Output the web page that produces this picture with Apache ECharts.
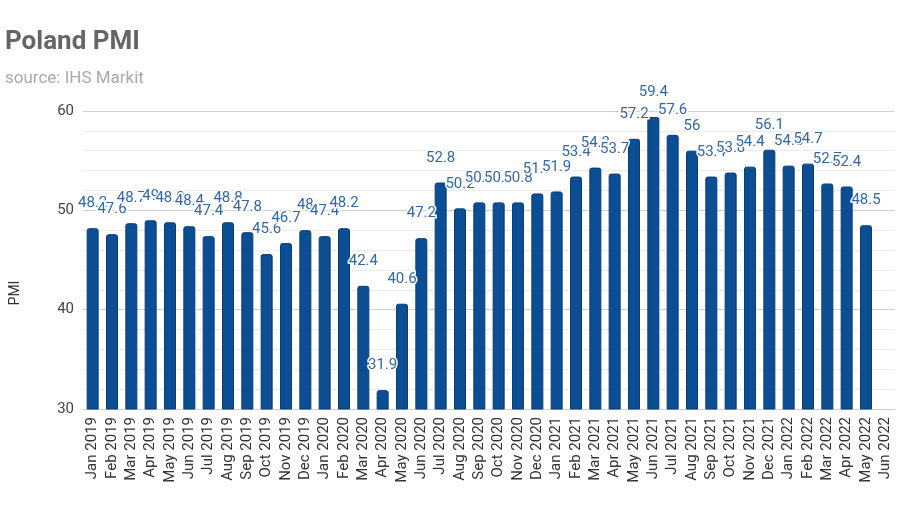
<!DOCTYPE html>
<html>
<head>
<meta charset="utf-8">
<script src="https://cdn.jsdelivr.net/npm/echarts@6/dist/echarts.min.js"></script>
<style>
html,body{margin:0;padding:0;background:#fff;}
#chart{width:900px;height:510px;}
</style>
</head>
<body>
<div id="chart"></div>
<script>
var categories = [
  'Jan 2019','Feb 2019','Mar 2019','Apr 2019','May 2019','Jun 2019','Jul 2019','Aug 2019','Sep 2019','Oct 2019','Nov 2019','Dec 2019',
  'Jan 2020','Feb 2020','Mar 2020','Apr 2020','May 2020','Jun 2020','Jul 2020','Aug 2020','Sep 2020','Oct 2020','Nov 2020','Dec 2020',
  'Jan 2021','Feb 2021','Mar 2021','Apr 2021','May 2021','Jun 2021','Jul 2021','Aug 2021','Sep 2021','Oct 2021','Nov 2021','Dec 2021',
  'Jan 2022','Feb 2022','Mar 2022','Apr 2022','May 2022','Jun 2022'
];
var pmiValues = [
  48.2, 47.6, 48.7, 49.0, 48.8, 48.4, 47.4, 48.8, 47.8, 45.6, 46.7, 48.0,
  47.4, 48.2, 42.4, 31.9, 40.6, 47.2, 52.8, 50.2, 50.8, 50.8, 50.8, 51.7,
  51.9, 53.4, 54.3, 53.7, 57.2, 59.4, 57.6, 56.0, 53.4, 53.8, 54.4, 56.1,
  54.5, 54.7, 52.7, 52.4, 48.5, null
];
var yTicks = { min: 30, max: 60, interval: 10 };

var chart = echarts.init(document.getElementById('chart'));
chart.setOption({
  animation: false,
  textStyle: { fontFamily: 'Roboto' },
  title: {
    text: 'Poland PMI',
    subtext: 'source: IHS Markit',
    left: 0,
    top: 24,
    itemGap: 15,
    textStyle: { fontSize: 26, fontWeight: 'bold', color: '#666', fontFamily: 'Roboto' },
    subtextStyle: { fontSize: 17, color: '#aaa', fontFamily: 'Roboto' }
  },
  grid: { left: 79, right: 5, top: 111, bottom: 101, containLabel: false },
  xAxis: {
    type: 'category',
    data: categories,
    axisLine: { show: true, lineStyle: { color: '#ccc' } },
    axisTick: { show: false },
    axisLabel: { rotate: 90, interval: 0, fontSize: 15, color: '#333', margin: 8 }
  },
  yAxis: {
    type: 'value',
    min: yTicks.min,
    max: yTicks.max,
    interval: yTicks.interval,
    name: 'PMI',
    nameLocation: 'middle',
    nameRotate: 90,
    nameGap: 61,
    nameTextStyle: { fontSize: 14, color: '#333', padding: [0, 66, 0, 0] },
    axisLine: { show: false },
    axisTick: { show: false },
    axisLabel: { fontSize: 15, color: '#444', margin: 9 },
    splitLine: { lineStyle: { color: '#d0d0d0' } },
    minorTick: { show: false, splitNumber: 5 },
    minorSplitLine: { show: true, lineStyle: { color: '#ececec' } }
  },
  series: [{
    type: 'bar',
    data: pmiValues,
    barWidth: 12,
    itemStyle: { color: '#0c4e93', borderColor: '#0a3d78', borderWidth: 1, borderRadius: [2, 2, 0, 0] },
    label: {
      show: true,
      position: 'top',
      distance: 17,
      fontSize: 15,
      color: '#3467a8',
      textBorderColor: '#fff',
      textBorderWidth: 3
    }
  }]
});
</script>
</body>
</html>
